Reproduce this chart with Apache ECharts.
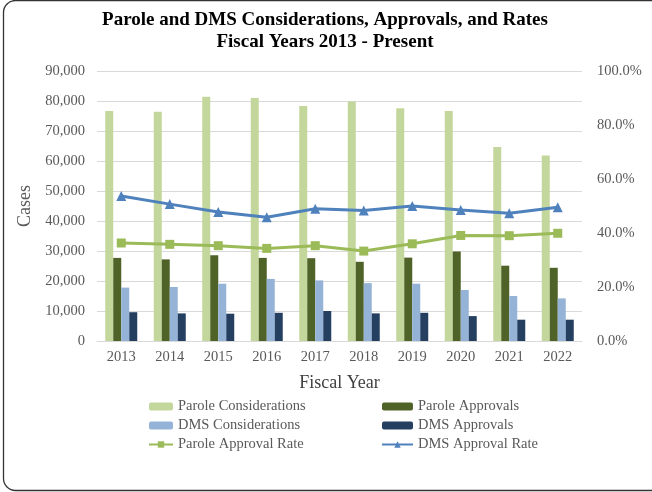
<!DOCTYPE html>
<html>
<head>
<meta charset="utf-8">
<script src="https://cdn.jsdelivr.net/npm/echarts@6/dist/echarts.min.js"></script>
<style>
  html, body { margin: 0; padding: 0; background: #fff; }
  #chart { width: 652px; height: 492px; }
</style>
</head>
<body>
<div id="chart"></div>
<script>
var years = ['2013', '2014', '2015', '2016', '2017', '2018', '2019', '2020', '2021', '2022'];
var paroleConsiderations = [76700, 76400, 81400, 81000, 78300, 79800, 77600, 76700, 64700, 61800];
var paroleApprovals = [27700, 27200, 28600, 27700, 27600, 26400, 27800, 29800, 25100, 24400];
var dmsConsiderations = [17800, 18000, 19100, 20700, 20200, 19300, 19100, 17000, 15000, 14200];
var dmsApprovals = [9600, 9200, 9100, 9400, 10000, 9200, 9400, 8300, 7100, 7100];
var paroleRate = [0.363, 0.358, 0.353, 0.343, 0.353, 0.333, 0.360, 0.391, 0.390, 0.399];
var dmsRate = [0.537, 0.507, 0.478, 0.458, 0.490, 0.483, 0.500, 0.485, 0.473, 0.495];

var serif = '"Liberation Serif", "Times New Roman", serif';
var labelGray = '#595959';
var gridGray = '#D9D9D9';

var chart = echarts.init(document.getElementById('chart'));

function barSeries(name, data, color) {
    return {
        name: name,
        type: 'bar',
        data: data,
        barWidth: 8,
        barGap: '0%',
        itemStyle: { color: color }
    };
}

function lineSeries(name, data, color, symbol, size) {
    return {
        name: name,
        type: 'line',
        yAxisIndex: 1,
        data: data,
        symbol: symbol,
        symbolSize: size,
        z: 5,
        lineStyle: { color: color, width: 3 },
        itemStyle: { color: color }
    };
}

var legendText = { fontFamily: serif, fontSize: 14.5, color: labelGray, lineHeight: 15 };

var option = {
    animation: false,
    backgroundColor: '#fff',
    graphic: [{
        type: 'rect',
        shape: { x: 3.5, y: 0.5, width: 700, height: 490, r: 12 },
        style: { fill: null, stroke: '#333', lineWidth: 1.3 },
        silent: true
    }],
    title: {
        text: 'Parole and DMS Considerations, Approvals, and Rates\nFiscal Years 2013 - Present',
        left: 325,
        textAlign: 'center',
        top: 9,
        padding: 0,
        textStyle: { fontFamily: serif, fontSize: 19, fontWeight: 'bold', color: '#000', lineHeight: 22 }
    },
    legend: [{
        left: 148,
        top: 399,
        padding: 0,
        orient: 'vertical',
        itemWidth: 24,
        itemHeight: 8,
        itemGap: 4,
        textStyle: legendText,
        data: ['Parole Considerations', 'DMS Considerations', 'Parole Approval Rate']
    }, {
        left: 381,
        top: 399,
        padding: 0,
        orient: 'vertical',
        itemWidth: 31,
        itemHeight: 8,
        itemGap: 4,
        textStyle: legendText,
        data: ['Parole Approvals', 'DMS Approvals', 'DMS Approval Rate']
    }],
    grid: { left: 97, right: 70, top: 71, bottom: 151, outerBoundsMode: 'none' },
    xAxis: {
        type: 'category',
        data: years,
        name: 'Fiscal Year',
        nameLocation: 'middle',
        nameGap: 33,
        nameTextStyle: { fontFamily: serif, fontSize: 18, color: '#404040' },
        axisLine: { lineStyle: { color: gridGray, width: 1 } },
        axisTick: { show: false },
        axisLabel: { fontFamily: serif, fontSize: 14.5, color: labelGray, margin: 9 }
    },
    yAxis: [{
        type: 'value',
        min: 0,
        max: 90000,
        interval: 10000,
        name: 'Cases',
        nameLocation: 'middle',
        nameGap: 54,
        nameTextStyle: { fontFamily: serif, fontSize: 18, color: labelGray },
        axisLine: { show: false },
        axisTick: { show: false },
        splitLine: { lineStyle: { color: gridGray, width: 1 } },
        axisLabel: {
            fontFamily: serif, fontSize: 14.5, color: labelGray, margin: 12,
            formatter: function (v) { return v.toLocaleString('en-US'); }
        }
    }, {
        type: 'value',
        min: 0,
        max: 1,
        interval: 0.2,
        name: 'Approval Rate',
        nameLocation: 'middle',
        nameGap: 62,
        nameRotate: 90,
        nameTextStyle: { fontFamily: serif, fontSize: 18, color: labelGray },
        axisLine: { show: false },
        axisTick: { show: false },
        splitLine: { show: false },
        axisLabel: {
            fontFamily: serif, fontSize: 14.5, color: labelGray, margin: 15,
            formatter: function (v) { return (v * 100).toFixed(1) + '%'; }
        }
    }],
    series: [
        barSeries('Parole Considerations', paroleConsiderations, '#C3D69B'),
        barSeries('Parole Approvals', paroleApprovals, '#4F6228'),
        barSeries('DMS Considerations', dmsConsiderations, '#95B3D7'),
        barSeries('DMS Approvals', dmsApprovals, '#243F60'),
        lineSeries('Parole Approval Rate', paroleRate, '#9BBB59', 'rect', 9),
        lineSeries('DMS Approval Rate', dmsRate, '#4F81BD', 'triangle', 10)
    ]
};

chart.setOption(option);
</script>
</body>
</html>
